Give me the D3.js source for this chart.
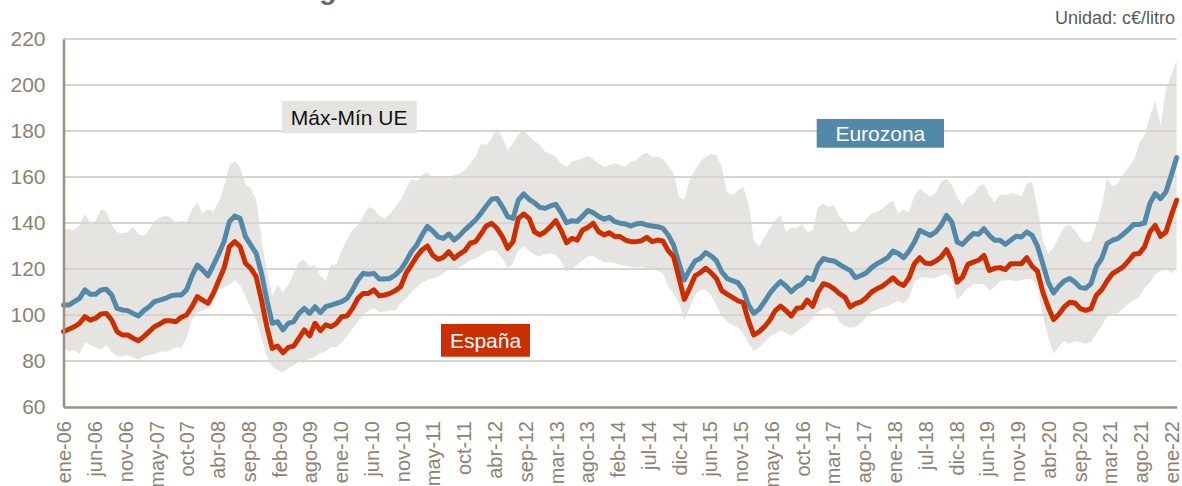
<!DOCTYPE html>
<html>
<head>
<meta charset="utf-8">
<script src="https://cdn.jsdelivr.net/npm/d3@7"></script>
<style>
  html, body { margin: 0; padding: 0; background: #ffffff; }
  svg { display: block; font-family: "Liberation Sans", Arial, sans-serif; }
</style>
</head>
<body>
<svg id="chart" width="1182" height="486"></svg>
<script>
// Gasoline price, c€/litro, one value every 4 weeks from Jan 2006 to early 2022
const eurozona = [
  104.3, 104.3, 105.8, 107.2, 110.9, 109.0, 109.0, 110.9, 111.2, 108.7,
  102.9, 102.2, 101.9, 100.7, 99.6, 101.9, 103.6, 105.8, 106.5, 107.2,
  108.3, 108.7, 108.7, 110.9, 117.0, 121.7, 119.6, 117.0, 121.7, 126.5,
  131.9, 140.6, 143.0, 142.0, 134.1, 130.4, 126.8, 118.1, 106.5, 96.4,
  97.1, 93.5, 96.4, 97.1, 100.7, 102.9, 100.7, 103.6, 101.0, 103.6,
  104.3, 105.1, 105.8, 107.2, 110.9, 115.2, 118.1, 117.7, 118.1, 115.7,
  115.7, 115.9, 117.4, 119.6, 123.2, 127.5, 130.4, 134.8, 138.5, 136.5,
  134.0, 133.3, 135.2, 132.6, 134.5, 137.0, 139.1, 141.3, 144.2, 147.4,
  150.3, 150.7, 147.1, 142.8, 142.0, 150.0, 152.6, 150.3, 148.8, 146.8,
  146.4, 147.4, 148.1, 144.5, 140.1, 141.0, 140.7, 143.0, 145.4, 144.5,
  142.8, 141.6, 142.5, 140.6, 139.9, 139.6, 138.7, 139.6, 139.9, 139.1,
  138.7, 138.4, 137.7, 134.8, 130.4, 122.5, 115.2, 119.6, 123.5, 124.6,
  127.1, 125.7, 123.6, 118.8, 115.9, 114.9, 114.1, 110.9, 104.3, 100.7,
  102.5, 105.8, 109.4, 112.3, 114.5, 112.6, 110.1, 112.3, 113.5, 116.3,
  115.4, 121.6, 124.5, 123.8, 123.5, 122.0, 120.6, 119.4, 116.2, 117.2,
  118.3, 120.6, 122.3, 123.5, 124.9, 127.8, 126.7, 124.9, 127.8, 131.7,
  136.8, 135.7, 134.6, 136.1, 139.0, 143.3, 140.4, 131.7, 130.7, 133.2,
  135.4, 135.1, 137.5, 134.6, 132.5, 132.5, 130.7, 132.5, 134.2, 133.9,
  136.1, 134.6, 129.9, 122.3, 114.3, 109.6, 112.5, 114.8, 115.9, 114.3,
  111.9, 111.6, 113.6, 120.9, 124.5, 131.0, 132.5, 133.2, 135.1, 137.1,
  139.4, 139.4, 140.0, 148.4, 152.8, 150.6, 153.5, 160.7, 168.4
];

const espana = [
  92.8, 93.8, 94.9, 96.4, 99.3, 97.8, 98.6, 100.4, 100.7, 97.8,
  92.8, 91.3, 91.3, 89.9, 88.8, 90.6, 92.8, 94.9, 96.1, 97.5,
  97.5, 97.1, 99.0, 100.0, 103.6, 108.0, 106.5, 105.1, 109.4, 114.9,
  120.3, 129.7, 131.9, 129.7, 122.5, 120.3, 116.7, 106.5, 94.9, 85.5,
  86.5, 83.6, 85.9, 86.5, 89.9, 93.5, 90.9, 96.4, 93.2, 95.7,
  94.9, 96.4, 99.3, 99.6, 102.9, 107.2, 109.4, 109.4, 110.9, 108.3,
  108.7, 109.4, 110.6, 112.3, 118.1, 121.7, 125.4, 128.3, 130.0, 126.0,
  124.2, 125.1, 127.5, 124.6, 126.5, 128.0, 131.2, 131.9, 135.2, 138.7,
  139.9, 137.7, 134.1, 129.0, 131.9, 142.0, 143.9, 142.0, 136.2, 134.8,
  136.2, 138.4, 141.0, 136.7, 131.4, 133.3, 132.6, 137.0, 138.1, 139.9,
  136.2, 134.8, 135.8, 134.1, 134.1, 132.6, 131.9, 131.9, 132.3, 133.8,
  131.9, 132.6, 132.2, 128.0, 125.4, 116.4, 106.8, 111.6, 117.0, 118.4,
  120.3, 118.4, 115.9, 110.6, 109.1, 107.7, 106.2, 105.4, 97.5, 91.3,
  92.8, 94.9, 97.8, 101.9, 103.9, 101.9, 99.6, 102.9, 103.2, 106.5,
  103.8, 110.0, 113.6, 112.9, 111.4, 109.3, 107.8, 103.5, 104.9, 105.7,
  107.5, 110.0, 111.4, 112.5, 114.3, 116.2, 113.9, 112.9, 116.2, 122.3,
  124.9, 122.6, 122.3, 123.5, 125.2, 128.4, 123.8, 114.3, 116.5, 122.0,
  123.0, 123.8, 125.9, 119.4, 120.3, 120.6, 119.7, 122.3, 122.3, 122.3,
  124.9, 121.2, 119.1, 110.0, 103.5, 98.0, 100.3, 103.5, 105.5, 105.2,
  102.8, 102.0, 102.8, 108.6, 111.0, 114.8, 118.0, 119.4, 120.9, 123.5,
  126.4, 126.7, 129.6, 136.1, 139.0, 134.2, 136.1, 143.3, 149.9
];

// Highest and lowest price among EU member states
const ueMax = [
  137, 137.5, 137, 139, 144, 140, 141, 146, 145, 139,
  136, 135.5, 136, 138.5, 135, 134.5, 137, 141, 142.5, 143,
  142.5, 140, 141, 140, 146, 149, 144, 146, 145, 149,
  156, 165, 167, 164, 157, 155, 150, 133, 119, 108,
  113, 110, 113, 118, 123, 124, 121, 122, 117, 115,
  122, 122, 128, 133, 137, 139, 143, 147, 146, 143,
  142, 144, 147, 150, 155, 159, 158, 161, 162, 160,
  159.5, 160.4, 159.0, 160.9, 161.3, 163.0, 165.9, 168.8, 174.6, 173.9,
  176.8, 181.2, 177.2, 171.7, 174.6, 178.7, 180.1, 177.8, 175.4, 173.9,
  171.0, 170.0, 168.8, 165.9, 164.5, 166.7, 167.4, 168.1, 169.1, 167.7,
  165.9, 164.5, 165.2, 165.9, 165.2, 164.5, 166.7, 167.4, 169.6, 170.6,
  168.8, 168.8, 167.7, 164.8, 161.6, 151.4, 150.0, 158.7, 163.0, 166.7,
  168.8, 170.0, 169.6, 164.5, 153.6, 152.2, 154.1, 155.8, 148.6, 132.6,
  129.7, 134.1, 137.7, 141.3, 143.5, 136.2, 137.7, 137.7, 139.5, 136.0,
  136.8, 147.0, 148.4, 147.0, 147.7, 142.9, 140.4, 136.1, 136.5, 139.0,
  141.9, 144.1, 144.8, 146.2, 148.4, 149.6, 144.1, 145.8, 144.8, 152.0,
  154.9, 153.0, 151.6, 153.0, 157.8, 159.3, 156.4, 151.3, 147.7, 151.3,
  152.5, 155.9, 157.1, 152.0, 149.1, 152.5, 152.0, 153.0, 152.5, 151.6,
  157.1, 157.8, 147.0, 132.5, 126.7, 129.3, 133.9, 138.3, 139.4, 136.8,
  133.2, 131.3, 132.5, 139.0, 147.0, 160.0, 155.9, 157.1, 161.2, 164.1,
  167.2, 174.5, 178.1, 186.1, 193.3, 182.5, 197.7, 204.2, 210.4
];

const ueMin = [
  86, 84, 85, 83, 88, 87, 86, 85, 87, 84,
  82, 82, 82.5, 81.5, 80.5, 82, 82.5, 83, 84, 84,
  84.5, 86, 85.5, 90, 98, 101, 102, 103, 106, 111,
  112, 113, 115, 113, 108, 103, 98, 90, 82, 77.5,
  76, 75, 77, 78, 80, 79, 81, 82, 83.5, 84,
  86, 86, 88, 91, 94, 97, 100, 102, 103, 101,
  101.5, 102, 102, 105, 107, 110, 112, 114, 115, 115.9,
  116.7, 118.1, 120.3, 119.9, 120.7, 122.2, 123.9, 124.6, 126.1, 127.5,
  128.3, 127.5, 124.6, 120.3, 122.5, 128.3, 129.7, 128.0, 126.1, 125.4,
  126.5, 126.8, 126.1, 123.2, 118.8, 120.3, 121.7, 123.9, 125.4, 125.7,
  124.2, 122.8, 123.2, 122.5, 121.7, 121.3, 121.0, 120.7, 121.0, 120.3,
  119.9, 119.3, 118.1, 112.3, 109.4, 105.1, 97.8, 102.9, 108.7, 110.9,
  110.9, 108.7, 104.3, 99.6, 97.1, 95.7, 94.6, 92.0, 87.7, 84.1,
  85.9, 88.4, 90.6, 92.0, 93.2, 92.3, 90.9, 92.8, 94.3, 96.0,
  98.8, 101.3, 102.8, 103.2, 101.7, 97.0, 95.1, 94.5, 94.8, 96.5,
  98.8, 101.3, 102.3, 103.2, 103.8, 104.9, 106.1, 104.9, 107.5, 114.3,
  116.2, 116.5, 115.8, 116.2, 117.2, 118.0, 115.4, 106.7, 109.0, 111.9,
  113.3, 113.6, 113.3, 110.7, 112.2, 114.8, 115.1, 115.1, 114.8, 115.1,
  115.8, 115.4, 112.2, 99.9, 90.4, 83.2, 86.4, 88.7, 87.5, 88.7,
  88.3, 87.5, 88.3, 91.9, 95.5, 99.1, 100.6, 100.6, 102.8, 104.9,
  106.4, 107.8, 111.9, 113.9, 117.7, 119.1, 120.6, 118.0, 120.9
];

// Category labels, one every 23 weeks
const tickLabels = [
  "ene-06", "jun-06", "nov-06", "may-07", "oct-07", "abr-08", "sep-08", "feb-09",
  "ago-09", "ene-10", "jun-10", "nov-10", "may-11", "oct-11", "abr-12", "sep-12",
  "mar-13", "ago-13", "feb-14", "jul-14", "dic-14", "jun-15", "nov-15", "may-16",
  "oct-16", "mar-17", "ago-17", "ene-18", "jul-18", "dic-18", "jun-19", "nov-19",
  "abr-20", "sep-20", "mar-21", "ago-21", "ene-22"
];
const yTicks = [60, 80, 100, 120, 140, 160, 180, 200, 220];

const WEEKS_PER_POINT = 4;
const WEEKS_PER_TICK = 23;

const COLORS = {
  band: "#e6e4e1",
  grid: "#d8d4cf",
  axis: "#9b9183",
  tick: "#8c8272",
  euro: "#5288a8",
  spain: "#cc2e00"
};

const svg = d3.select("#chart");
const plot = { left: 63.5, right: 1176.6, top: 39, bottom: 407 };

// Chart title (sits above the visible area, only its descenders show)
svg.append("text").attr("x", 64).attr("y", -1)
  .attr("fill", "#6b665e").style("font-size", "28px").style("font-weight", "bold")
  .text("Precio medio de la gasolina");

const nWeeks = (eurozona.length - 1) * WEEKS_PER_POINT;
const x = d3.scaleLinear().domain([0, nWeeks]).range([plot.left, plot.right]);
const y = d3.scaleLinear().domain([60, 220]).range([plot.bottom, plot.top]);

const weekOf = i => i * WEEKS_PER_POINT;
const rows = eurozona.map((v, i) => ({
  w: weekOf(i), euro: v, spain: espana[i], max: ueMax[i], min: ueMin[i]
}));

// Max-min band across the EU
svg.append("path")
  .datum(rows)
  .attr("fill", COLORS.band)
  .attr("d", d3.area().x(d => x(d.w)).y0(d => y(d.min)).y1(d => y(d.max)));

// Horizontal gridlines
svg.append("g")
  .selectAll("line")
  .data(yTicks.filter(t => t > 60))
  .join("line")
  .attr("x1", plot.left).attr("x2", plot.right)
  .attr("y1", d => y(d)).attr("y2", d => y(d))
  .attr("stroke", COLORS.grid).attr("stroke-width", 2);

// Price lines
const line = key => d3.line().x(d => x(d.w)).y(d => y(d[key])).curve(d3.curveLinear);
svg.append("path").datum(rows)
  .attr("fill", "none").attr("stroke", COLORS.euro).attr("stroke-width", 5)
  .attr("stroke-linejoin", "round").attr("stroke-linecap", "round")
  .attr("d", line("euro"));
svg.append("path").datum(rows)
  .attr("fill", "none").attr("stroke", COLORS.spain).attr("stroke-width", 5)
  .attr("stroke-linejoin", "round").attr("stroke-linecap", "round")
  .attr("d", line("spain"));

// Y axis
const yAxis = d3.axisLeft(y).tickValues(yTicks).tickSize(0).tickPadding(18);
const gy = svg.append("g").attr("transform", `translate(${plot.left},0)`).call(yAxis);
gy.select(".domain").attr("stroke", COLORS.axis).attr("stroke-width", 2.5);
gy.selectAll("text")
  .attr("fill", COLORS.tick)
  .style("font-size", "21px")
  .style("font-family", "'Liberation Sans', Arial, sans-serif");

// X axis with rotated category labels
const tickWeeks = tickLabels.map((_, i) => i * WEEKS_PER_TICK);
const xAxis = d3.axisBottom(x).tickValues(tickWeeks).tickSize(0)
  .tickFormat((d, i) => tickLabels[i]);
const gx = svg.append("g").attr("transform", `translate(0,${plot.bottom})`).call(xAxis);
gx.select(".domain").attr("stroke", COLORS.axis).attr("stroke-width", 2.5);
gx.selectAll("text")
  .attr("fill", COLORS.tick)
  .style("font-size", "20px")
  .style("font-family", "'Liberation Sans', Arial, sans-serif")
  .attr("text-anchor", "end")
  .attr("transform", "rotate(-90)")
  .attr("x", -14).attr("y", 0).attr("dy", "0.36em");

// Series labels
function tag(x0, y0, w, h, fill, color, text) {
  const g = svg.append("g");
  g.append("rect").attr("x", x0).attr("y", y0).attr("width", w).attr("height", h).attr("fill", fill);
  g.append("text").attr("x", x0 + w / 2).attr("y", y0 + h / 2).attr("dy", "0.36em")
    .attr("text-anchor", "middle").attr("fill", color)
    .style("font-size", "21px").text(text);
}
tag(281.7, 101, 135, 32.3, COLORS.band, "#111111", "Máx-Mín UE");
tag(816.7, 119, 127.3, 28.7, COLORS.euro, "#ffffff", "Eurozona");
tag(441, 324, 89, 32.7, COLORS.spain, "#ffffff", "España");

// Unit note
svg.append("text").attr("x", 1175).attr("y", 24).attr("text-anchor", "end")
  .attr("fill", "#595959").style("font-size", "18px").text("Unidad: c€/litro");
</script>
</body>
</html>
